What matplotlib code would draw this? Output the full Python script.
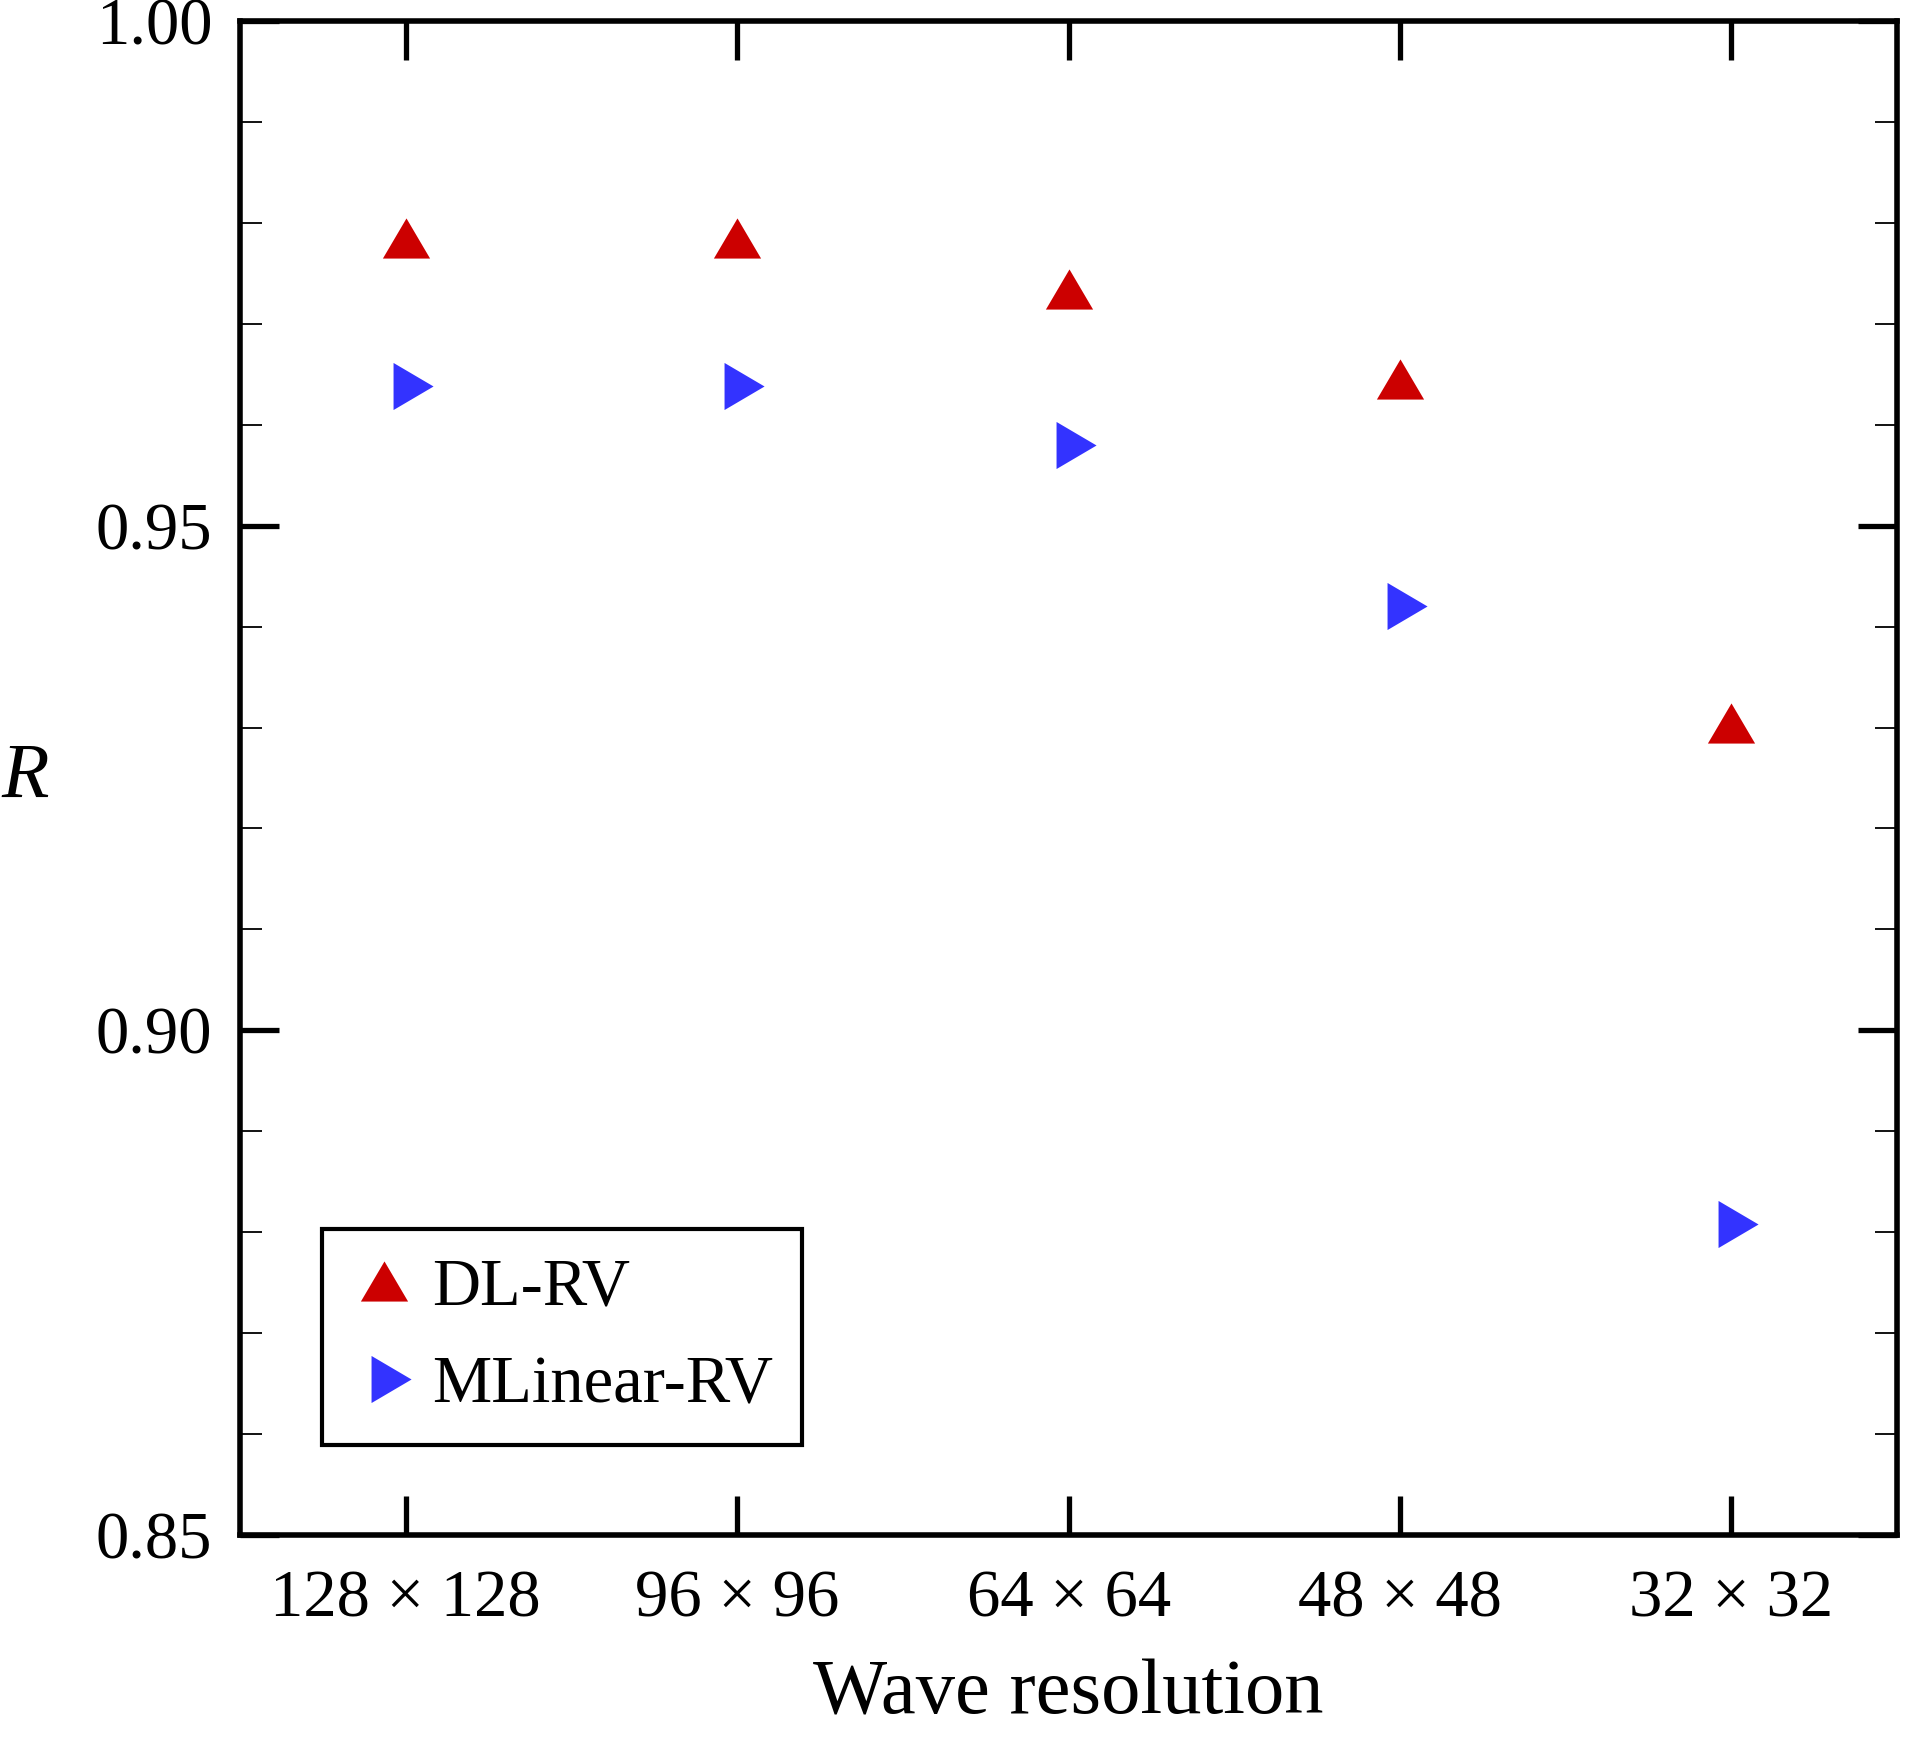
import matplotlib
matplotlib.use("Agg")
import matplotlib.pyplot as plt
from matplotlib.ticker import MultipleLocator, FormatStrFormatter

plt.rcParams['font.family'] = ['Liberation Serif', 'DejaVu Serif']
plt.rcParams['mathtext.fontset'] = 'stix'

categories = ["128 × 128", "96 × 96", "64 × 64", "48 × 48", "32 × 32"]
dl_rv = [0.9785, 0.9785, 0.9735, 0.9645, 0.9305]
mlinear_rv = [0.9638, 0.9638, 0.9580, 0.9420, 0.8808]

up_tri = [(-1.0, -0.85), (1.0, -0.85), (0.0, 0.85), (-1.0, -0.85)]
right_tri = [(-0.55, -1.0), (1.15, 0.0), (-0.55, 1.0), (-0.55, -1.0)]

fig = plt.figure(figsize=(19.07, 17.39), dpi=100)
ax = fig.add_axes([0.1259, 0.1173, 0.8689, 0.8706])

x = list(range(len(categories)))
ax.plot(x, dl_rv, linestyle='none', marker=up_tri, markersize=34,
        color='#CC0000', markeredgewidth=0, label='DL-RV')
ax.plot(x, mlinear_rv, linestyle='none', marker=right_tri, markersize=39,
        color='#3333FF', markeredgewidth=0, label='MLinear-RV')

ax.set_xlim(-0.5, 4.5)
ax.set_ylim(0.85, 1.00)
ax.set_xticks(x)
ax.set_xticklabels(categories)
ax.yaxis.set_major_locator(MultipleLocator(0.05))
ax.yaxis.set_minor_locator(MultipleLocator(0.01))
ax.yaxis.set_major_formatter(FormatStrFormatter('%.2f'))

for s in ax.spines.values():
    s.set_linewidth(4)
ax.tick_params(axis='both', which='major', direction='in', length=28, width=3.8,
               labelsize=48, top=True, right=True)
ax.tick_params(axis='y', which='minor', direction='in', length=16, width=1.3,
               left=True, right=True)
ax.tick_params(axis='x', which='minor', bottom=False, top=False)
ax.tick_params(axis='y', which='major', pad=20)
ax.tick_params(axis='x', which='major', pad=25)

ax.set_xlabel('Wave resolution', fontsize=56.5, labelpad=20)
ax.set_ylabel('R', fontsize=56, fontstyle='italic', rotation=0, va='center', ha='center')
ax.yaxis.set_label_coords(-0.130, 0.5)

leg = ax.legend(loc='lower left', bbox_to_anchor=(0.0495, 0.0594), borderaxespad=0,
                fontsize=48, frameon=True, fancybox=False, framealpha=1,
                edgecolor='black', handlelength=1.0, handletextpad=0.22,
                borderpad=0.43, labelspacing=0.55)
leg.get_frame().set_linewidth(3)

fig.savefig('out.png', dpi=100)
